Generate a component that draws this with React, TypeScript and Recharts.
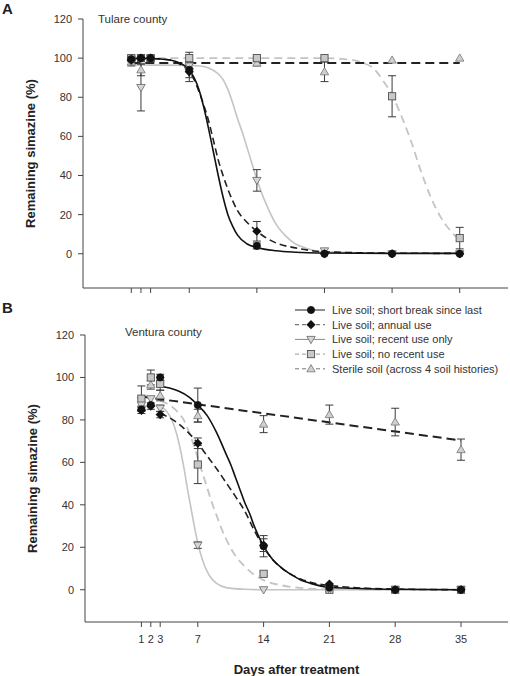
import { ComposedChart, Line, Scatter, ErrorBar, XAxis, YAxis } from 'recharts';

const FONT = 'Arial, "Liberation Sans", sans-serif';

const days = [1, 2, 3, 7, 14, 21, 28, 35];
const dayTicks = [1, 2, 3, 7, 14, 21, 28, 35];
const yTicks = [0, 20, 40, 60, 80, 100, 120];

// Tulare county (A) measured points and standard errors
const shortA = [99.5, 100, 100, 94, 4, 0, 0, 0];
const shortErrA = [1, null, null, 4, 1.5, null, null, null];
const annualA = [99, 100, 100, 93, 11.5, 0, 0, 0];
const annualErrA = [null, null, null, 5, 5, null, null, null];
const recentA = [98, 85, 100, 96, 37.5, 1.5, 0, 0];
const recentErrA = [null, 12, null, null, 5.5, null, null, null];
const noRecentA = [100, 100, 100, 100, 100, 100, 80.5, 8];
const noRecentErrA = [1, null, null, 3, 1, null, 10.5, 5.5];
const sterileA = [98, 94, 100, 96, 97.5, 93, 99, 100];
const sterileErrA = [2, 3, null, null, 1.5, 5, null, null];

// Tulare fitted curves
const shortCurveDaysA = [1, 3, 5, 6, 7, 7.5, 8, 8.5, 9, 9.5, 10, 10.5, 11, 11.5, 12, 13, 14, 16, 18, 21, 28, 35];
const shortCurveA = [99.8, 99.8, 99, 97.5, 94, 90, 84, 75, 64, 52, 40, 29, 20, 14, 9.5, 5, 3.2, 1.5, 0.8, 0.4, 0.2, 0.2];
const annualCurveDaysA = [1, 3, 5, 6, 7, 7.5, 8, 8.5, 9, 9.5, 10, 10.5, 11, 11.5, 12, 13, 14, 15, 16, 18, 21, 28, 35];
const annualCurveA = [99.8, 99.8, 99, 97, 93, 89, 83, 76, 68, 58, 48, 40, 33, 27, 22, 16, 11.5, 8, 5.5, 3, 1, 0.3, 0.2];
const recentCurveDaysA = [1, 7, 8, 9, 10, 10.5, 11, 11.5, 12, 12.5, 13, 13.5, 14, 14.5, 15, 16, 17, 18, 19, 21, 28, 35];
const recentCurveA = [96.5, 96.3, 96, 95, 92, 89, 84, 77, 69, 62, 54, 46, 38, 31, 25, 15, 9, 5, 3, 1, 0.3, 0.3];
const noRecentCurveDaysA = [1, 7, 14, 21, 23, 24, 25, 26, 27, 28, 29, 30, 31, 32, 33, 34, 35];
const noRecentCurveA = [100, 100, 100, 100, 99.5, 99, 97.5, 95, 89, 81, 70, 57, 42, 29, 19, 12, 7];
const sterileCurveDaysA = [1, 35];
const sterileCurveA = [97.5, 97.5];

// Ventura county (B) measured points and standard errors
const shortB = [85, 87, 100, 87, 20.5, 1, 0, 0];
const shortErrB = [null, null, 1.5, 8, 5, null, null, null];
const annualB = [84.5, 86.5, 82.5, 69, 21, 2.7, 0, 0];
const annualErrB = [1.5, 1.5, 1.5, 2.5, 3, null, null, null];
const recentB = [87, 90, 85.5, 21, 0, 0, 0, 0];
const recentErrB = [null, null, 1.5, 1.5, null, null, null, null];
const noRecentB = [90, 100, 97, 59, 7.5, 0, 0, 0];
const noRecentErrB = [6, 3.5, 3, 9, 1, null, null, null];
const sterileB = [87.5, 96.5, 91.5, 82, 78, 82.5, 79, 66];
const sterileErrB = [3, 2, 2.5, 3, 4, 4.5, 6.5, 5];

// Ventura fitted curves
const shortCurveDaysB = [3, 4, 5, 6, 7, 8, 9, 10, 10.5, 11, 11.5, 12, 12.5, 13, 14, 15, 16, 17, 18, 19, 21, 28, 35];
const shortCurveB = [96, 95, 93.5, 91, 87, 82, 74, 64, 59, 53, 47, 41, 36, 30, 20.5, 14, 10, 7, 4.5, 3, 1.2, 0.2, 0];
const annualCurveDaysB = [3, 4, 5, 6, 7, 8, 9, 10, 11, 12, 13, 14, 15, 16, 17, 18, 19, 21, 28, 35];
const annualCurveB = [83, 81, 78, 74, 69, 63, 57, 50.5, 44, 37, 28, 20, 14, 10, 7, 5, 3.5, 2, 0.3, 0];
const recentCurveDaysB = [3, 3.5, 4, 4.5, 5, 5.5, 6, 6.5, 7, 7.5, 8, 8.5, 9, 10, 12, 14, 21, 35];
const recentCurveB = [86, 85, 82, 77, 69, 58, 45, 33, 22, 14, 8.5, 5, 3, 1, 0.2, 0, 0, 0];
const noRecentCurveDaysB = [3, 4, 5, 5.5, 6, 6.5, 7, 7.5, 8, 8.5, 9, 9.5, 10, 11, 12, 13, 14, 16, 18, 21, 35];
const noRecentCurveB = [89, 87, 83, 80, 75, 69, 62, 55, 48, 41, 35, 29, 24, 16, 11, 7, 4.5, 2, 0.8, 0.2, 0];
const sterileCurveDaysB = [1, 35];
const sterileCurveB = [91, 70.3];

const toPoints = (xs: number[], ys: number[]) => xs.map((x, i) => ({ x, y: ys[i] }));
const toErrPoints = (ys: number[], errs: (number | null)[]) =>
  days.map((x, i) => ({ x, y: ys[i], err: errs[i] })).filter(p => p.err != null);

const CircleDot = (p: any) => <circle cx={p.cx} cy={p.cy} r={3.6} fill="#111" stroke="#111" strokeWidth={0.8} />;
const DiamondDot = (p: any) => {
  const { cx, cy } = p;
  const s = 4.6;
  return <polygon points={`${cx},${cy - s} ${cx + s},${cy} ${cx},${cy + s} ${cx - s},${cy}`} fill="#111" />;
};
const TriDownDot = (p: any) => {
  const { cx, cy } = p;
  return <polygon points={`${cx - 4.2},${cy - 3} ${cx + 4.2},${cy - 3} ${cx},${cy + 4.2}`} fill="#d6d6d6" stroke="#707070" strokeWidth={0.9} />;
};
const SquareDot = (p: any) => <rect x={p.cx - 3.6} y={p.cy - 3.6} width={7.2} height={7.2} fill="#c8c8c8" stroke="#505050" strokeWidth={0.9} />;
const TriUpDot = (p: any) => {
  const { cx, cy } = p;
  return <polygon points={`${cx - 4.2},${cy + 3} ${cx + 4.2},${cy + 3} ${cx},${cy - 4.2}`} fill="#d0d0d0" stroke="#808080" strokeWidth={0.9} />;
};
const NoDot = () => <g />;

const series = [
  { key: 'short', name: 'Live soil; short break since last', stroke: '#111', dash: undefined, width: 1.6, shape: CircleDot },
  { key: 'annual', name: 'Live soil; annual use', stroke: '#222', dash: '7 4', width: 1.6, shape: DiamondDot },
  { key: 'recent', name: 'Live soil; recent use only', stroke: '#c4c4c4', dash: undefined, width: 1.6, shape: TriDownDot },
  { key: 'noRecent', name: 'Live soil; no recent use', stroke: '#c4c4c4', dash: '8 5', width: 1.8, shape: SquareDot },
  { key: 'sterile', name: 'Sterile soil (across 4 soil histories)', stroke: '#222', dash: '9 5', width: 2, shape: TriUpDot },
];

const panelA = {
  short: { pts: shortA, err: shortErrA, cx: shortCurveDaysA, cy: shortCurveA },
  annual: { pts: annualA, err: annualErrA, cx: annualCurveDaysA, cy: annualCurveA },
  recent: { pts: recentA, err: recentErrA, cx: recentCurveDaysA, cy: recentCurveA },
  noRecent: { pts: noRecentA, err: noRecentErrA, cx: noRecentCurveDaysA, cy: noRecentCurveA },
  sterile: { pts: sterileA, err: sterileErrA, cx: sterileCurveDaysA, cy: sterileCurveA },
};
const panelB = {
  short: { pts: shortB, err: shortErrB, cx: shortCurveDaysB, cy: shortCurveB },
  annual: { pts: annualB, err: annualErrB, cx: annualCurveDaysB, cy: annualCurveB },
  recent: { pts: recentB, err: recentErrB, cx: recentCurveDaysB, cy: recentCurveB },
  noRecent: { pts: noRecentB, err: noRecentErrB, cx: noRecentCurveDaysB, cy: noRecentCurveB },
  sterile: { pts: sterileB, err: sterileErrB, cx: sterileCurveDaysB, cy: sterileCurveB },
};

const axisStroke = '#444';
const tickStyle = { fontSize: 11, fill: '#333', fontFamily: FONT };
const labelStyle = { textAnchor: 'middle' as const, fontWeight: 'bold', fontSize: 13, fill: '#222', fontFamily: FONT };

function Panel({ data, height, top, margin, xDomain, yDomain, yWidth, xHeight, showXLabels, yLabelOffset }: any) {
  const lineOrder = ['noRecent', 'recent', 'sterile', 'annual', 'short'];
  const markOrder = ['sterile', 'noRecent', 'recent', 'annual', 'short'];
  const byKey = (k: string) => series.find(s => s.key === k)!;
  return (
    <div style={{ position: 'absolute', left: 0, top, width: 510, height }}>
      <ComposedChart width={510} height={height} margin={margin}>
        <XAxis
          type="number"
          dataKey="x"
          domain={xDomain}
          ticks={dayTicks}
          interval={0}
          allowDataOverflow
          height={xHeight}
          tickSize={5}
          tickMargin={8}
          stroke={axisStroke}
          tick={tickStyle}
          tickFormatter={(v: number) => (showXLabels ? String(v) : '')}
          label={
            showXLabels
              ? { value: 'Days after treatment', position: 'insideBottom', offset: 2, style: labelStyle }
              : undefined
          }
        />
        <YAxis
          type="number"
          dataKey="y"
          domain={yDomain}
          ticks={yTicks}
          interval={0}
          allowDataOverflow
          width={yWidth}
          tickSize={5}
          tickMargin={6}
          stroke={axisStroke}
          tick={tickStyle}
          label={{ value: 'Remaining simazine (%)', angle: -90, position: 'insideLeft', offset: yLabelOffset, style: labelStyle }}
        />
        {lineOrder.map(k => {
          const s = byKey(k);
          const d = data[k];
          return (
            <Line
              key={`line-${k}`}
              data={toPoints(d.cx, d.cy)}
              dataKey="y"
              type="monotone"
              stroke={s.stroke}
              strokeWidth={s.width}
              strokeDasharray={s.dash}
              dot={false}
              activeDot={false}
              isAnimationActive={false}
            />
          );
        })}
        {markOrder.map(k => (
          <Scatter key={`err-${k}`} data={toErrPoints(data[k].pts, data[k].err)} dataKey="y" shape={NoDot} isAnimationActive={false}>
            <ErrorBar dataKey="err" direction="y" width={4} stroke="#3a3a3a" strokeWidth={1} />
          </Scatter>
        ))}
        {markOrder.map(k => (
          <Scatter
            key={`pts-${k}`}
            data={toPoints(days, data[k].pts)}
            dataKey="y"
            shape={byKey(k).shape}
            isAnimationActive={false}
          />
        ))}
      </ComposedChart>
    </div>
  );
}

function LegendBox() {
  const rowY = [10, 24.7, 39.4, 54.1, 68.8];
  const legendStroke: Record<string, string> = { short: '#222', annual: '#555', recent: '#888', noRecent: '#999', sterile: '#777' };
  return (
    <svg style={{ position: 'absolute', left: 290, top: 300 }} width={220} height={80}>
      {series.map((s, i) => {
        const Shape = s.shape;
        const y = rowY[i];
        return (
          <g key={s.key}>
            <line x1={5} x2={35} y1={y} y2={y} stroke={legendStroke[s.key]} strokeWidth={1} strokeDasharray={s.dash ? '4 3' : undefined} />
            <Shape cx={21} cy={y} />
            <text x={42} y={y} dominantBaseline="central" fontSize={11} fill="#333" fontFamily={FONT}>
              {s.name}
            </text>
          </g>
        );
      })}
    </svg>
  );
}

const textStyle = { position: 'absolute' as const, fontFamily: FONT, whiteSpace: 'nowrap' as const, lineHeight: '17px' };

export default function App() {
  return (
    <div style={{ position: 'absolute', left: 0, top: 0, width: 510, height: 676, background: '#fff', overflow: 'hidden' }}>
      <Panel
        data={panelA}
        top={0}
        height={300}
        margin={{ top: 19, right: 2, bottom: 2, left: 0 }}
        xDomain={[-4, 40]}
        yDomain={[-17.5, 120]}
        yWidth={83}
        xHeight={10}
        showXLabels={false}
        yLabelOffset={30}
      />
      <Panel
        data={panelB}
        top={300}
        height={376}
        margin={{ top: 35, right: 2, bottom: 0, left: 0 }}
        xDomain={[-5, 40]}
        yDomain={[-15.2, 120]}
        yWidth={85}
        xHeight={54}
        showXLabels
        yLabelOffset={32}
      />
      <div style={{ ...textStyle, left: 2, top: 0, fontSize: 15, fontWeight: 'bold', color: '#222' }}>A</div>
      <div style={{ ...textStyle, left: 2, top: 299, fontSize: 15, fontWeight: 'bold', color: '#222' }}>B</div>
      <div style={{ ...textStyle, left: 98, top: 11, fontSize: 11.5, color: '#333' }}>Tulare county</div>
      <div style={{ ...textStyle, left: 125, top: 324, fontSize: 11.5, color: '#333' }}>Ventura county</div>
      <LegendBox />
    </div>
  );
}
